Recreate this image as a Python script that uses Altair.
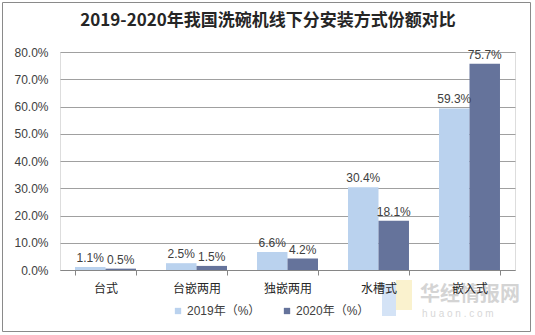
import altair as alt
import pandas as pd

categories = ["台式", "台嵌两用", "独嵌两用", "水槽式", "嵌入式"]
series = ["2019年（%）", "2020年（%）"]
v2019 = [1.1, 2.5, 6.6, 30.4, 59.3]
v2020 = [0.5, 1.5, 4.2, 18.1, 75.7]
y_ticks = [0, 10, 20, 30, 40, 50, 60, 70, 80]
colors = ["#BAD2EE", "#65739B"]
title_text = "2019-2020年我国洗碗机线下分安装方式份额对比"

rows = []
for c, a, b in zip(categories, v2019, v2020):
    rows.append({"cat": c, "series": series[0], "val": a, "lab": f"{a:.1f}%"})
    rows.append({"cat": c, "series": series[1], "val": b, "lab": f"{b:.1f}%"})
df = pd.DataFrame(rows)

FONT = "Liberation Sans, Noto Sans CJK SC"
TXT = "#404040"

x_enc = alt.X(
    "cat:N",
    sort=categories,
    title=None,
    scale=alt.Scale(paddingInner=0.33, paddingOuter=0.165),
    axis=alt.Axis(
        labelAngle=0,
        labelFont=FONT,
        labelFontSize=12,
        labelColor="#262626",
        labelPadding=8,
        tickBand="extent",
        tickSize=5,
        tickColor="#868686",
        domainColor="#868686",
        grid=False,
        zindex=2,
    ),
)
y_enc = alt.Y(
    "val:Q",
    title=None,
    scale=alt.Scale(domain=[0, 80], nice=False, zero=True),
    axis=alt.Axis(
        values=y_ticks,
        labelExpr="format(datum.value, '.1f') + '%'",
        labelFont=FONT,
        labelFontSize=12,
        labelColor=TXT,
        labelPadding=12,
        labelOverlap=False,
        ticks=False,
        domain=False,
        gridColor="#a0a0a0",
        gridWidth=1,
    ),
)
xo = alt.XOffset("series:N", sort=series)
color = alt.Color(
    "series:N",
    sort=series,
    scale=alt.Scale(domain=series, range=colors),
    legend=alt.Legend(
        title=None,
        orient="none",
        direction="horizontal",
        legendX=112,
        legendY=253,
        symbolType="square",
        symbolSize=40,
        symbolStrokeWidth=0,
        labelFont=FONT,
        labelFontSize=12,
        labelColor=TXT,
        columnPadding=20,
        labelOffset=3,
    ),
)

base = alt.Chart(df).encode(x=x_enc, xOffset=xo, y=y_enc)
bars = base.mark_bar().encode(color=color)
labels = base.mark_text(dy=-9, font=FONT, fontSize=12, color=TXT).encode(text="lab:N")

one = pd.DataFrame({"k": [0]})
border = alt.Chart(one).mark_rect(fill=None, stroke="#8a8a8a", strokeWidth=1).encode(
    x=alt.value(-57.5), x2=alt.value(470.5), y=alt.value(-49.5), y2=alt.value(279.5)
)
title = alt.Chart(pd.DataFrame({"t": [title_text]})).mark_text(
    font="Noto Sans CJK SC", fontWeight="bold", fontSize=17, color="#262626",
    align="center", baseline="middle"
).encode(text="t:N", x=alt.value(208), y=alt.value(-31))
wm1 = alt.Chart(one).mark_text(
    text="华经情报网", font="Noto Sans CJK SC", fontWeight="bold", fontSize=20,
    color="#d4d4d4", align="left", baseline="middle"
).encode(x=alt.value(360), y=alt.value(243))
wm2 = alt.Chart(one).mark_text(
    text="h u a o n . c o m", font="Liberation Sans", fontSize=10,
    color="#d8d8d8", align="left", baseline="middle"
).encode(x=alt.value(362), y=alt.value(262))
logo_b = alt.Chart(one).mark_rect(color="#a9c8ee", opacity=0.5).encode(
    x=alt.value(322), x2=alt.value(336), y=alt.value(232), y2=alt.value(264)
)
logo_y = alt.Chart(one).mark_rect(color="#f6e7a6", opacity=0.55).encode(
    x=alt.value(336), x2=alt.value(352), y=alt.value(228), y2=alt.value(258)
)

chart = (
    alt.layer(logo_b, logo_y, wm1, wm2, bars, labels, title, border)
    .properties(
        width=455,
        height=218,
        padding={"left": 60, "top": 52, "right": 20, "bottom": 65},
        autosize=alt.AutoSizeParams(type="none"),
    )
    .configure_view(stroke=None)
    .configure(background="white")
)

chart.save("out.html", embed_options={"renderer": "svg", "actions": False})
